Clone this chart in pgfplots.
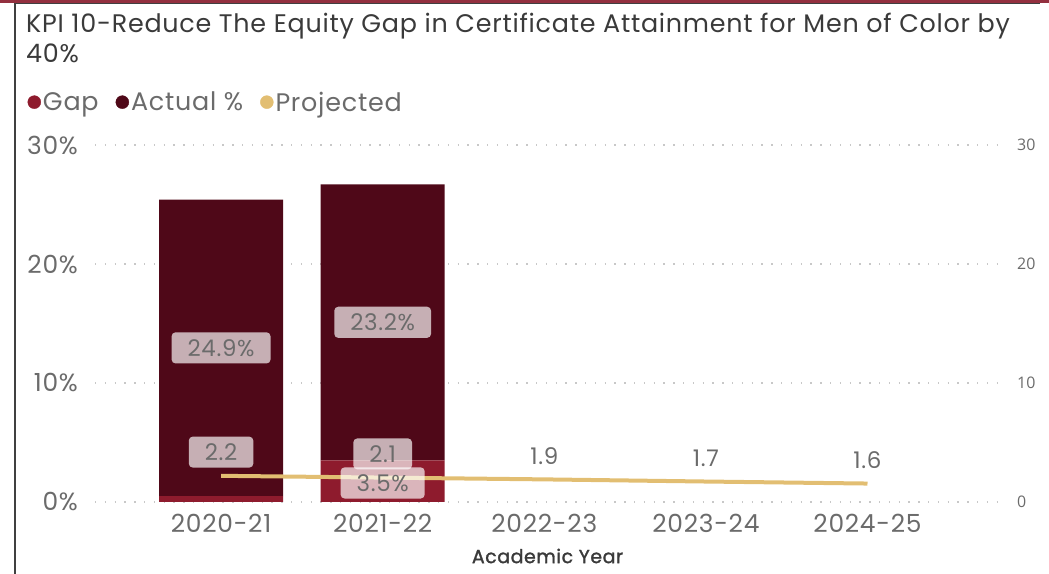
\documentclass[border=0pt]{standalone}
\usepackage{fontspec}
\setmainfont{Poppins}[LetterSpace=3]
\newfontfamily\seg{Open Sans}
\newfontfamily\popsb{Poppins}[FakeBold=1.5, LetterSpace=3]
\usepackage{pgfplots}
\pgfplotsset{compat=1.18}
\definecolor{gapred}{HTML}{8E1B2D}
\definecolor{actual}{HTML}{4F0818}
\definecolor{proj}{HTML}{E2BE72}
\definecolor{txtgray}{HTML}{6B6B6B}
\definecolor{titlegray}{HTML}{3A3A3A}
\definecolor{topred}{HTML}{93303F}
\definecolor{gridgray}{HTML}{C8C8C8}
\tikzset{lblbox/.style={fill=white, fill opacity=0.68, text opacity=1, rounded corners=4bp,
  inner xsep=16bp, inner ysep=7bp, text=txtgray, font=\fontsize{23}{27}\selectfont}}
\begin{document}
\begin{tikzpicture}[x=1bp,y=1bp]
\path[use as bounding box] (0,0) rectangle (1049,574);
\fill[topred] (0,571) rectangle (1049,574);
\draw[line width=1.5bp, black!75] (15,0) -- (15,570.5) -- (1040,570.5);
\node[anchor=north west, align=left, text=titlegray, font=\fontsize{25.5}{30}\selectfont, inner sep=0]
  at (26,561) {KPI 10-Reduce The Equity Gap in Certificate Attainment for Men of Color by\\40\%};

% primary axis: stacked bars
\begin{axis}[
  at={(95bp,72bp)}, anchor=south west, scale only axis,
  width=905bp, height=357bp,
  xmin=-0.78, xmax=4.82, ymin=0, ymax=30,
  ybar stacked, bar width=124bp,
  axis line style={draw=none}, major tick length=0,
  ytick={0,10,20,30},
  yticklabel={\pgfmathprintnumber{\tick}\%},
  /pgf/number format/assume math mode=true,
  yticklabel style={inner sep=0pt, xshift=-17bp, text=txtgray, font=\fontsize{25}{28}\selectfont},
  ymajorgrids, grid style={gridgray, line width=1.3bp, dash pattern=on 1.3bp off 8.5bp},
  xtick={0,1,2,3,4},
  xticklabels={2020-21,2021-22,2022-23,2023-24,2024-25},
  xticklabel style={inner sep=0pt, anchor=north, yshift=-12bp, text=txtgray, font=\fontsize{25}{28}\selectfont},
  xlabel={Academic Year},
  xlabel style={at={(axis description cs:0.5,0)}, anchor=center, yshift=-54bp, text=titlegray, font=\popsb\fontsize{19}{22}\selectfont},
  legend columns=3,
  legend style={draw=none, fill=none, at={(-0.078,1.12)}, anchor=west,
    font=\fontsize{25.5}{28}\selectfont, text=txtgray,
    /tikz/every even column/.append style={column sep=15bp},
    nodes={inner xsep=2bp}},
]
\addplot[fill=gapred, draw=none, forget plot] coordinates {(0,0.5) (1,3.5)};
\addplot[fill=actual, draw=none, forget plot] coordinates {(0,24.9) (1,23.2)};
\addlegendimage{legend image code/.code={\fill[gapred] (0.25em,0) circle (6.5bp);}}
\addlegendentry{Gap}
\addlegendimage{legend image code/.code={\fill[actual] (0.25em,0) circle (6.5bp);}}
\addlegendentry{Actual \%}
\addlegendimage{legend image code/.code={\fill[proj] (0.25em,0) circle (6.5bp);}}
\addlegendentry{Projected}
\end{axis}

% secondary axis: projected line and labels
\begin{axis}[
  at={(95bp,72bp)}, anchor=south west, scale only axis,
  width=905bp, height=357bp,
  xmin=-0.78, xmax=4.82, ymin=0, ymax=30,
  axis y line*=right, axis x line=none,
  axis line style={draw=none}, major tick length=0,
  ytick={0,10,20,30}, xtick=\empty,
  /pgf/number format/assume math mode=true,
  yticklabel style={inner sep=0pt, anchor=west, xshift=17bp, text=txtgray, font=\seg\fontsize{16}{18}\selectfont},
]
\addplot[proj, line width=4bp, mark=none] coordinates {(0,2.2) (1,2.05) (2,1.9) (3,1.72) (4,1.55)};
% bar data labels
\addplot[draw=none, mark=none, nodes near coords, point meta=explicit symbolic,
  nodes near coords style={lblbox, anchor=center}]
  coordinates {(0,12.95)[24.9\%] (1,15.1)[23.2\%] (1,1.6)[3.5\%]};
% line data labels
\addplot[draw=none, mark=none, nodes near coords, point meta=explicit symbolic,
  nodes near coords style={lblbox, anchor=south, yshift=8bp}]
  coordinates {(0,2.2)[2.2] (1,2.05)[2.1] (2,1.9)[1.9] (3,1.72)[1.7] (4,1.55)[1.6]};
\end{axis}
\end{tikzpicture}
\end{document}
